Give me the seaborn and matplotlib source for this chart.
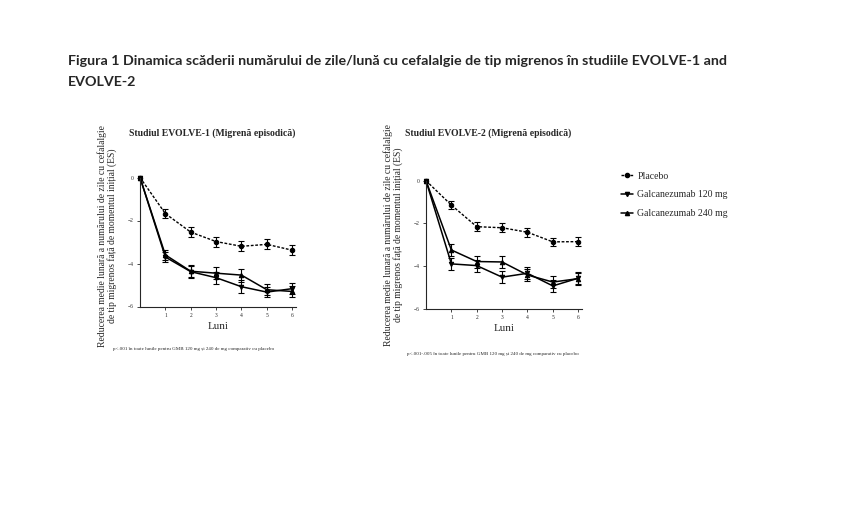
import numpy as np
import pandas as pd
import matplotlib
matplotlib.use("Agg")
import matplotlib.pyplot as plt
import seaborn as sns
from matplotlib.lines import Line2D

# ---------------- data ----------------
MONTHS = [0, 1, 2, 3, 4, 5, 6]
SERIES = ["Placebo", "Galcanezumab 120 mg", "Galcanezumab 240 mg"]

# EVOLVE-1
e1_placebo = [0, -1.68, -2.54, -2.98, -3.20, -3.11, -3.38]
e1_120 = [0, -3.70, -4.38, -4.66, -5.08, -5.33, -5.17]
e1_240 = [0, -3.60, -4.36, -4.45, -4.54, -5.22, -5.30]
e1_placebo_se = [0, 0.22, 0.22, 0.23, 0.23, 0.23, 0.22]
e1_120_se = [0, 0.25, 0.28, 0.28, 0.30, 0.25, 0.25]
e1_240_se = [0, 0.25, 0.28, 0.28, 0.30, 0.25, 0.25]

# EVOLVE-2
e2_placebo = [0, -1.14, -2.15, -2.20, -2.41, -2.86, -2.85]
e2_120 = [0, -3.89, -3.97, -4.51, -4.33, -4.92, -4.56]
e2_240 = [0, -3.24, -3.78, -3.80, -4.41, -4.74, -4.58]
e2_placebo_se = [0, 0.18, 0.20, 0.20, 0.20, 0.20, 0.20]
e2_120_se = [0, 0.28, 0.28, 0.28, 0.28, 0.28, 0.28]
e2_240_se = [0, 0.28, 0.28, 0.28, 0.28, 0.28, 0.28]

TITLE = ("Figura 1 Dinamica scăderii numărului de zile/lună cu cefalalgie de tip "
         "migrenos în studiile EVOLVE-1 and\nEVOLVE-2")
PANEL_TITLES = ["Studiul EVOLVE-1 (Migrenă episodică)", "Studiul EVOLVE-2 (Migrenă episodică)"]
YLABEL = ("Reducerea medie lunară a numărului de zile cu cefalalgie\n"
          "de tip migrenos față de momentul inițial (ES)")
XLABEL = "Luni"
FOOTNOTES = ["p<.001 în toate lunile pentru GMB 120 mg și 240 de mg comparativ cu placebo",
             "p<.001-.005 în toate lunile pentru GMB 120 mg și 240 de mg comparativ cu placebo"]

# ---------------- style ----------------
sns.set_style("ticks")
plt.rcParams["font.family"] = ["Liberation Serif", "DejaVu Serif"]

STYLE = {
    "Placebo": dict(ls=(0, (2, 1.2)), marker="o", ms=3.2, lw=1.0),
    "Galcanezumab 120 mg": dict(ls="-", marker="v", ms=3.2, lw=1.1),
    "Galcanezumab 240 mg": dict(ls="-", marker="^", ms=3.2, lw=1.1),
}


def build_frame(placebo, g120, g240, s_p, s_120, s_240):
    rows = []
    for name, vals, ses in zip(SERIES, [placebo, g120, g240], [s_p, s_120, s_240]):
        for m, v, s in zip(MONTHS, vals, ses):
            rows.append({"Luni": m, "value": v, "se": s, "group": name})
    return pd.DataFrame(rows)


frames = [
    build_frame(e1_placebo, e1_120, e1_240, e1_placebo_se, e1_120_se, e1_240_se),
    build_frame(e2_placebo, e2_120, e2_240, e2_placebo_se, e2_120_se, e2_240_se),
]

fig = plt.figure(figsize=(8.41, 5.23), dpi=100)
fig.text(68 / 841, 1 - 55 / 523, TITLE, family=["Lato", "DejaVu Sans"], fontweight="bold",
         fontsize=10.3, va="top", ha="left", linespacing=1.9)

axes_rects = [
    [140 / 841, 1 - 306.5 / 523, 156 / 841, 129 / 523],
    [426 / 841, 1 - 309 / 523, 156 / 841, 128.3 / 523],
]
title_pos = [(212, 133), (488, 133)]
ylabel_y = [0.547, 0.578]
foot_pos = [(113, 349), (407, 354)]

for i, (df, rect) in enumerate(zip(frames, axes_rects)):
    ax = fig.add_axes(rect)
    for name in SERIES:
        sub = df[df["group"] == name]
        st = STYLE[name]
        sns.lineplot(data=sub, x="Luni", y="value", ax=ax, color="black",
                     linestyle=st["ls"], linewidth=st["lw"], marker=st["marker"],
                     markersize=st["ms"], markeredgecolor="black", legend=False,
                     errorbar=None, clip_on=False)
        ax.errorbar(sub["Luni"][1:], sub["value"][1:], yerr=sub["se"][1:], fmt="none",
                    ecolor="black", elinewidth=0.8, capsize=2.0, capthick=0.8, clip_on=False)
    ax.set_xlim(0, 6.15)
    ax.set_ylim(-6, 0)
    ax.set_xticks([1, 2, 3, 4, 5, 6])
    ax.set_yticks([0, -2, -4, -6])
    ax.tick_params(labelsize=4, length=2.5, width=0.6, pad=2)
    for sp in ["top", "right"]:
        ax.spines[sp].set_visible(False)
    for sp in ["left", "bottom"]:
        ax.spines[sp].set_linewidth(0.8)
    ax.set_xlabel(XLABEL, fontsize=8, labelpad=3)
    ax.set_ylabel(YLABEL, fontsize=6.9, linespacing=1.05)
    ax.yaxis.set_label_coords(-0.145, ylabel_y[i])
    tx, ty = title_pos[i]
    fig.text(tx / 841, 1 - ty / 523, PANEL_TITLES[i], fontsize=7, fontweight="bold",
             ha="center", va="center")
    fx, fy = foot_pos[i]
    fig.text(fx / 841, 1 - fy / 523, FOOTNOTES[i], fontsize=3.6, ha="left", va="center")

handles = [Line2D([0], [0], color="black", linestyle=STYLE[n]["ls"], linewidth=STYLE[n]["lw"],
                  marker=STYLE[n]["marker"], markersize=3) for n in SERIES]
fig.legend(handles, SERIES, loc="upper left", bbox_to_anchor=(612 / 841, 1 - 163 / 523),
           frameon=False, fontsize=7, handlelength=1.3, handletextpad=0.4,
           labelspacing=1.0)

fig.savefig("out.png", dpi=100)
